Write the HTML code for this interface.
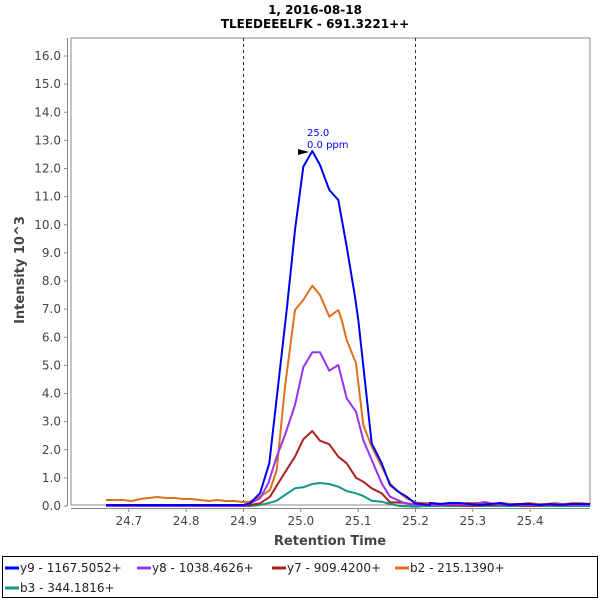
<!DOCTYPE html>
<html><head><meta charset="utf-8"><style>
body{margin:0;background:#fff}
svg{display:block;font-family:"DejaVu Sans","Liberation Sans",sans-serif}
</style></head><body>
<svg id="s" width="600" height="600" xmlns="http://www.w3.org/2000/svg">
<rect width="600" height="600" fill="#fff"/>
<text x="315" y="14" text-anchor="middle" font-size="12" font-weight="bold">1, 2016-08-18</text>
<text x="315" y="28" text-anchor="middle" font-size="12" font-weight="bold">TLEEDEEELFK - 691.3221++</text>
<rect x="71" y="38" width="519" height="467" fill="#fff" stroke="#888" stroke-width="1"/>
<line x1="67.5" y1="38" x2="67.5" y2="506" stroke="#888"/>
<line x1="71" y1="508.5" x2="590" y2="508.5" stroke="#888"/>
<g id="yt" font-size="12" fill="#444" text-anchor="end"></g>
<g id="xt" font-size="12" fill="#444" text-anchor="middle"></g>
<line x1="243.5" y1="38" x2="243.5" y2="505" stroke="#333" stroke-dasharray="3,3"/>
<line x1="415.5" y1="38" x2="415.5" y2="505" stroke="#333" stroke-dasharray="3,3"/>
<g id="ser" fill="none" stroke-width="2" stroke-linejoin="round"></g>
<polygon points="298,149 309,152 298,155" fill="#000"/>
<text x="307" y="136" font-size="10" fill="#00f">25.0</text>
<text x="307" y="148" font-size="10" fill="#00f">0.0 ppm</text>
<text x="330" y="545" text-anchor="middle" font-size="13" font-weight="bold" fill="#444">Retention Time</text>
<text transform="translate(24,270) rotate(-90)" text-anchor="middle" font-size="13" font-weight="bold" fill="#444">Intensity 10^3</text>
<rect x="2.5" y="556.5" width="595" height="41" fill="#fff" stroke="#000"/>
<g font-size="12" fill="#222">
<line x1="5" y1="568" x2="19" y2="568" stroke="#00f" stroke-width="3"/><text x="20" y="572">y9 - 1167.5052+</text>
<line x1="137" y1="568" x2="151" y2="568" stroke="#9933ee" stroke-width="3"/><text x="152" y="572">y8 - 1038.4626+</text>
<line x1="272" y1="568" x2="286" y2="568" stroke="#aa2222" stroke-width="3"/><text x="287" y="572">y7 - 909.4200+</text>
<line x1="395" y1="568" x2="409" y2="568" stroke="#e07020" stroke-width="3"/><text x="410" y="572">b2 - 215.1390+</text>
<line x1="5" y1="588" x2="19" y2="588" stroke="#119988" stroke-width="3"/><text x="20" y="592">b3 - 344.1816+</text>
</g>
</svg>
<script>
var NS="http://www.w3.org/2000/svg";
function el(p,t,a,txt){var e=document.createElementNS(NS,t);for(var k in a)e.setAttribute(k,a[k]);if(txt)e.textContent=txt;document.getElementById(p).appendChild(e);}
for(var i=0;i<=16;i++){var y=506-i*28.125;el("yt","text",{x:61,y:y+4},i.toFixed(1));el("yt","line",{x1:64,y1:y,x2:67,y2:y,stroke:"#888"});}
for(var i=0;i<8;i++){var v=24.7+i*0.1;var x=243.5+(v-24.9)*573.3;el("xt","text",{x:x,y:525},v.toFixed(1));el("xt","line",{x1:x,y1:509,x2:x,y2:512,stroke:"#888"});}
function z4(a){return a.map(function(p){return [230+p[0]/3,310+p[1]/3];});}
function z3(a){return a.map(function(p){return [230+p[0]/3,120+p[1]/3];});}
function base(x0,x1,ys){var r=[];var n=ys.length;for(var i=0;i<n;i++)r.push([x0+(x1-x0)*i/(n-1),ys[i]]);return r;}
function draw(pts,c){el("ser","polyline",{points:pts.map(function(p){return p[0].toFixed(1)+","+p[1].toFixed(1)}).join(" "),stroke:c});}
var ob=base(106,243,[500,500,500,501,499,498,497,498,498,499,499,500,501,500,501,501,502]);
draw(ob.concat(z4([[60,575],[90,560],[120,540],[140,480],[165,230],[195,0]])).concat(z3([[220,540],[247,497],[270,525],[298,590],[325,570],[335,600]])).concat(z4([[350,90],[378,160],[400,345],[425,410],[455,470],[480,520],[505,545],[530,565],[560,578]])).concat(base(424,590,[503,503,504,503,504,503,503,504,504,503,504,504,503,504,504,503,504,503,503,504])),"#e07020");
var tb=base(106,243,[506,506,506,506,506,506,506,506,506,506,506,506,506,506,506,506,506]);
draw(tb.concat(z4([[60,588],[90,585],[120,578],[140,572],[165,555],[195,535],[220,532],[247,522],[270,519],[298,522],[325,530],[350,543],[378,550],[400,558],[425,572],[455,575],[480,582],[510,588],[560,590]])).concat(base(424,590,[506,506,506,506,506,506,506,506,506,506,506,506])),"#119988");
draw(tb.concat(z4([[60,585],[90,580],[120,560],[160,495],[195,440],[220,388],[247,363],[270,392],[298,403],[325,440],[350,460],[378,503],[400,515],[425,535],[455,550],[480,577],[520,578],[560,585]])).concat(base(424,590,[505,505,505,506,505,505,505,506,505,505,505,505])),"#aa2222");
draw(tb.concat(z4([[60,580],[90,565],[115,520],[140,440],[165,375],[195,285],[220,172],[247,127],[270,127],[298,182],[325,165],[350,265],[378,305],[400,390],[425,450],[455,520],[480,560],[520,578],[560,585]])).concat(base(424,590,[505,505,504,505,502,505,504,505,505,504,505,505])),"#9933ee");
var bb=base(106,243,[505,505,505,505,505,505,505,505,505,505,505,505,505,505,505,505,505]);
draw(bb.concat(z4([[60,580],[90,550],[118,460],[170,0]])).concat(z3([[195,330],[220,140],[247,93],[270,135],[298,210],[325,240],[350,380],[375,530],[385,600]])).concat(z4([[425,400],[455,460],[480,525],[505,545],[530,560],[555,580],[600,585]])).concat(base(430,590,[503,504,503,503,504,505,504,503,505,504,504,505,504,505,504,504,504])),"#0000ee");
</script>
</body></html>
